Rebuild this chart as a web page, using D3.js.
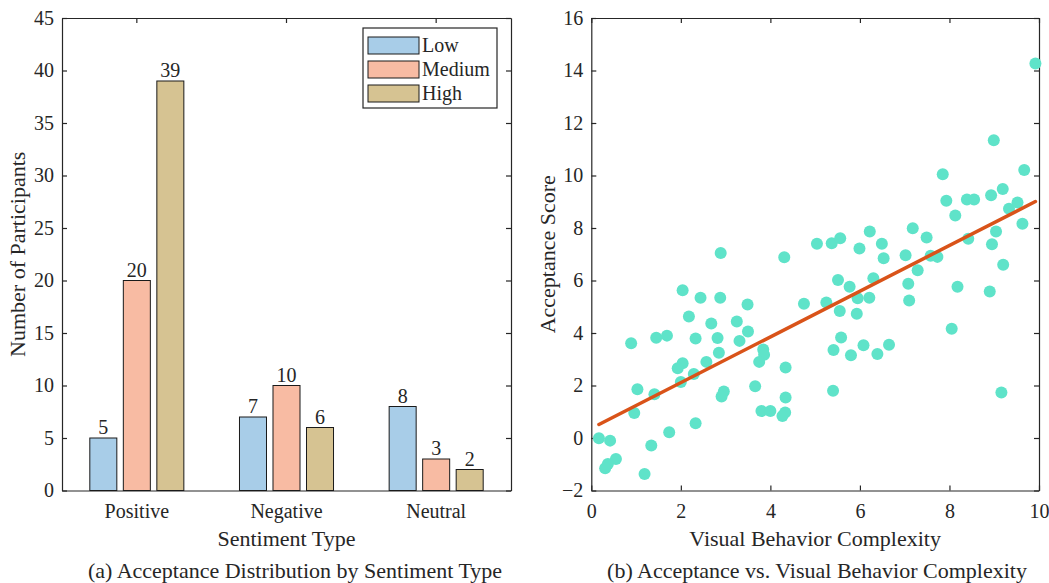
<!DOCTYPE html>
<html>
<head>
<meta charset="utf-8">
<script src="https://cdn.jsdelivr.net/npm/d3@7"></script>
<style>
  html, body { margin: 0; padding: 0; background: #fff; }
  svg text { font-family: "Liberation Serif", "Times New Roman", serif; fill: #262626; }
</style>
</head>
<body>
<svg id="fig" width="1049" height="583"></svg>
<script>
// ---- Panel (a): participants per sentiment type and acceptance level ----
const sentimentTypes = ["Positive", "Negative", "Neutral"];
const acceptanceLevels = ["Low", "Medium", "High"];
const lowCounts = [5, 7, 8];
const mediumCounts = [20, 10, 3];
const highCounts = [39, 6, 2];
const countTicks = [0, 5, 10, 15, 20, 25, 30, 35, 40, 45];

// ---- Panel (b): acceptance score vs. visual behavior complexity ----
const complexity = [
  9.92, 8.99, 9.67, 7.85, 9.19, 8.93, 7.93, 8.39, 8.55, 8.13,
  9.33, 9.52, 9.63, 7.18, 7.49, 9.04, 8.42, 8.95, 6.49, 6.53,
  7.02, 7.58, 7.73, 7.29, 9.20, 7.08, 8.18, 8.90, 7.10, 2.89,
  2.04, 2.44, 2.88, 2.18, 2.68, 3.25, 4.31, 5.04, 5.37, 5.56,
  6.22, 5.99, 5.51, 5.77, 6.30, 5.95, 6.21, 3.49, 4.75, 5.25,
  5.55, 5.93, 0.89, 1.45, 1.69, 2.33, 2.82, 3.31, 3.50, 2.04,
  1.93, 2.57, 2.85, 2.29, 2.00, 1.03, 1.41, 2.96, 2.91, 0.96,
  2.33, 1.74, 0.17, 0.42, 1.34, 0.55, 0.37, 0.31, 1.19, 3.84,
  3.86, 3.75, 4.34, 3.66, 4.34, 3.80, 4.00, 4.33, 4.27, 5.58,
  5.41, 5.80, 6.08, 6.39, 6.65, 5.40, 8.05, 9.16
];
const acceptance = [
  14.27, 11.34, 10.21, 10.05, 9.49, 9.25, 9.04, 9.09, 9.09, 8.48,
  8.73, 8.97, 8.16, 7.99, 7.64, 7.87, 7.59, 7.38, 7.40, 6.85,
  6.96, 6.94, 6.90, 6.39, 6.60, 5.88, 5.76, 5.58, 5.24, 7.05,
  5.63, 5.34, 5.34, 4.63, 4.36, 4.44, 6.89, 7.40, 7.42, 7.61,
  7.87, 7.22, 6.02, 5.76, 6.09, 5.32, 5.34, 5.09, 5.11, 5.16,
  4.84, 4.73, 3.61, 3.82, 3.90, 3.79, 3.81, 3.70, 4.06, 2.85,
  2.66, 2.90, 3.25, 2.44, 2.13, 1.86, 1.67, 1.77, 1.58, 0.95,
  0.56, 0.22, -0.01, -0.10, -0.29, -0.80, -0.99, -1.15, -1.37, 3.37,
  3.17, 2.90, 2.69, 1.97, 1.54, 1.03, 1.03, 0.97, 0.84, 3.83,
  3.35, 3.15, 3.53, 3.20, 3.55, 1.80, 4.16, 1.73
];
const complexityTicks = [0, 2, 4, 6, 8, 10];
const scoreTicks = [-2, 0, 2, 4, 6, 8, 10, 12, 14, 16];

const levelColors = ["#a8cde8", "#f8bba3", "#d6c392"];
const axisColor = "#262626";
const svg = d3.select("#fig");

const plotTop = 18, plotBottom = 490.5;

function styleAxis(g) {
  g.selectAll("path, line").attr("stroke", axisColor).attr("stroke-width", 1.2);
  g.selectAll("text").attr("fill", axisColor).style("font-size", "20px")
    .style("font-family", "'Liberation Serif', 'Times New Roman', serif");
}

// ===================== Panel (a) =====================
{
  const left = 62, right = 511;
  const x = d3.scaleBand().domain(sentimentTypes).range([left, right]);
  const sub = d3.scaleBand().domain(acceptanceLevels).range([0, x.bandwidth()])
    .paddingInner(0.194).paddingOuter(0.83);
  const y = d3.scaleLinear().domain([0, 45]).range([plotBottom, plotTop]);

  const g = svg.append("g");

  g.append("g").attr("transform", `translate(${left},0)`)
    .call(d3.axisLeft(y).tickValues(countTicks).tickSizeInner(-5).tickSizeOuter(0).tickPadding(8))
    .call(styleAxis);
  g.append("g").attr("transform", `translate(${right},0)`)
    .call(d3.axisRight(y).tickValues(countTicks).tickSizeInner(-5).tickSizeOuter(0).tickFormat(""))
    .call(styleAxis);
  g.append("g").attr("transform", `translate(0,${plotTop})`)
    .call(d3.axisTop(x).tickSizeInner(-5).tickSizeOuter(0).tickFormat(""))
    .call(styleAxis);
  g.append("g").attr("transform", `translate(0,${plotBottom})`)
    .call(d3.axisBottom(x).tickSizeInner(-5).tickSizeOuter(0).tickPadding(13))
    .call(styleAxis);

  const series = [lowCounts, mediumCounts, highCounts];
  const rows = [];
  sentimentTypes.forEach((s, i) => acceptanceLevels.forEach((lv, j) =>
    rows.push({ s, lv, j, v: series[j][i] })));

  g.selectAll("rect.bar").data(rows).join("rect")
    .attr("class", "bar")
    .attr("x", d => x(d.s) + sub(d.lv))
    .attr("width", sub.bandwidth())
    .attr("y", d => y(d.v))
    .attr("height", d => y(0) - y(d.v))
    .attr("fill", d => levelColors[d.j])
    .attr("stroke", "#1a1a1a").attr("stroke-width", 1);

  g.selectAll("text.val").data(rows).join("text")
    .attr("class", "val")
    .attr("x", d => x(d.s) + sub(d.lv) + sub.bandwidth() / 2)
    .attr("y", d => y(d.v) - 4)
    .attr("text-anchor", "middle")
    .style("font-size", "20px").attr("fill", "#000")
    .text(d => d.v);

  // legend
  const lg = g.append("g").attr("transform", "translate(363,28)");
  lg.append("rect").attr("width", 134).attr("height", 80)
    .attr("fill", "#fff").attr("stroke", axisColor).attr("stroke-width", 1.2);
  acceptanceLevels.forEach((lv, j) => {
    const yy = 9 + j * 24;
    lg.append("rect").attr("x", 5).attr("y", yy).attr("width", 51).attr("height", 17)
      .attr("fill", levelColors[j]).attr("stroke", "#1a1a1a").attr("stroke-width", 1);
    lg.append("text").attr("x", 59).attr("y", yy + 15).style("font-size", "20px")
      .attr("fill", "#000").text(lv);
  });

  g.append("text").attr("x", (left + right) / 2).attr("y", 546)
    .attr("text-anchor", "middle").style("font-size", "22px").text("Sentiment Type");
  g.append("text").attr("transform", `translate(25,${(plotTop + plotBottom) / 2}) rotate(-90)`)
    .attr("text-anchor", "middle").style("font-size", "22px").text("Number of Participants");
  g.append("text").attr("x", 295).attr("y", 578)
    .attr("text-anchor", "middle").style("font-size", "22px").attr("fill", "#000")
    .text("(a) Acceptance Distribution by Sentiment Type");
}

// ===================== Panel (b) =====================
{
  const left = 591.3, right = 1039;
  const x = d3.scaleLinear().domain([0, 10]).range([left, right]);
  const y = d3.scaleLinear().domain([-2, 16]).range([plotBottom, plotTop]);
  const g = svg.append("g");

  g.append("g").attr("transform", `translate(${left},0)`)
    .call(d3.axisLeft(y).tickValues(scoreTicks).tickSizeInner(-5).tickSizeOuter(0).tickPadding(8))
    .call(styleAxis);
  g.append("g").attr("transform", `translate(${right},0)`)
    .call(d3.axisRight(y).tickValues(scoreTicks).tickSizeInner(-5).tickSizeOuter(0).tickFormat(""))
    .call(styleAxis);
  g.append("g").attr("transform", `translate(0,${plotTop})`)
    .call(d3.axisTop(x).tickValues(complexityTicks).tickSizeInner(-5).tickSizeOuter(0).tickFormat(""))
    .call(styleAxis);
  g.append("g").attr("transform", `translate(0,${plotBottom})`)
    .call(d3.axisBottom(x).tickValues(complexityTicks).tickSizeInner(-5).tickSizeOuter(0).tickPadding(13))
    .call(styleAxis);

  const pts = complexity.map((c, i) => ({ c, a: acceptance[i] }));
  g.selectAll("circle").data(pts).join("circle")
    .attr("cx", d => x(d.c)).attr("cy", d => y(d.a)).attr("r", 6)
    .attr("fill", "#5fe3c9");

  // least-squares fit over the observed complexity range
  const mx = d3.mean(complexity), my = d3.mean(acceptance);
  let sxy = 0, sxx = 0;
  complexity.forEach((c, i) => { sxy += (c - mx) * (acceptance[i] - my); sxx += (c - mx) * (c - mx); });
  const slope = sxy / sxx, intercept = my - slope * mx;
  const [xmin, xmax] = d3.extent(complexity);
  g.append("line")
    .attr("x1", x(xmin)).attr("y1", y(intercept + slope * xmin))
    .attr("x2", x(xmax)).attr("y2", y(intercept + slope * xmax))
    .attr("stroke", "#d95319").attr("stroke-width", 3.5).attr("stroke-linecap", "round");

  g.append("text").attr("x", (left + right) / 2).attr("y", 546)
    .attr("text-anchor", "middle").style("font-size", "22px").text("Visual Behavior Complexity");
  g.append("text").attr("transform", `translate(555,${(plotTop + plotBottom) / 2}) rotate(-90)`)
    .attr("text-anchor", "middle").style("font-size", "22px").text("Acceptance Score");
  g.append("text").attr("x", 817).attr("y", 578)
    .attr("text-anchor", "middle").style("font-size", "22px").attr("fill", "#000")
    .text("(b) Acceptance vs. Visual Behavior Complexity");
}
</script>
</body>
</html>
